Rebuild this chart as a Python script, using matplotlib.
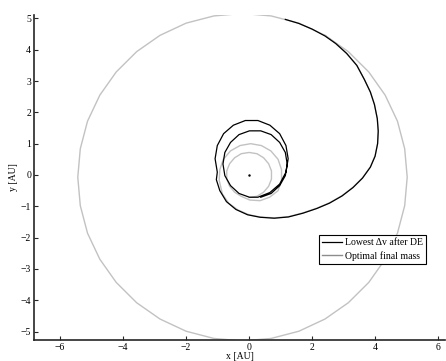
import matplotlib
matplotlib.use('Agg')
import matplotlib.pyplot as plt

plt.rcParams['font.family'] = ['Liberation Serif', 'DejaVu Serif']

# black trajectory: two inner loops, then transfer out to the outer orbit
black_x = [0.37, 0.70, 0.97, 1.15, 1.21, 1.15, 0.97, 0.70, 0.37, 0.01, -0.32, -0.59, -0.77, -0.83,
           -0.77, -0.59, -0.32, 0.01,
           0.28, 0.66, 0.97, 1.17, 1.24, 1.17, 0.97, 0.66, 0.28, -0.12, -0.50, -0.81, -1.01, -1.08,
           -1.01,
           -1.04, -0.93, -0.72, -0.42, -0.05, 0.35, 0.80, 1.25, 1.71, 2.15, 2.55, 2.95, 3.30, 3.60,
           3.85, 4.00, 4.08, 4.10, 4.07, 3.98, 3.85, 3.66, 3.42, 3.10, 2.75, 2.41, 2.00, 1.58, 1.15]
black_y = [-0.71, -0.59, -0.34, -0.02, 0.35, 0.72, 1.04, 1.29, 1.41, 1.41, 1.29, 1.04, 0.72, 0.35,
           -0.02, -0.34, -0.59, -0.71,
           -0.71, -0.56, -0.29, 0.09, 0.52, 0.94, 1.32, 1.59, 1.74, 1.74, 1.59, 1.32, 0.94, 0.52,
           0.09,
           -0.15, -0.50, -0.85, -1.10, -1.27, -1.35, -1.38, -1.34, -1.22, -1.07, -0.90, -0.67, -0.40,
           -0.10, 0.25, 0.60, 1.00, 1.40, 1.80, 2.25, 2.65, 3.05, 3.50, 3.88, 4.20, 4.44, 4.66, 4.84,
           4.97]

# grey trajectory: inner circles, transfer, then one full outer orbit
grey_x = [0.00, 0.25, 0.46, 0.62, 0.71, 0.71, 0.62, 0.46, 0.25, 0.00, -0.25, -0.46, -0.62, -0.71,
          -0.71, -0.62, -0.46, -0.25,
          0.02, 0.35, 0.65, 0.92, 1.03, 1.03, 0.92, 0.69, 0.39, 0.05, -0.29, -0.59, -0.82, -0.93,
          -0.95,
          -0.85, -0.65, -0.35, 0.00, 0.35, 0.80, 1.25, 1.71, 2.15, 2.55, 2.95, 3.30, 3.60,
          3.85, 4.00, 4.08, 4.10, 4.07, 3.98, 3.85, 3.66, 3.42, 3.10, 2.75,
          2.41, 1.58, 0.70, -0.21, -1.12, -2.00, -2.83, -3.57, -4.22, -4.74, -5.13, -5.36,
          -5.44, -5.36, -5.13, -4.74, -4.22, -3.57, -2.83, -2.00, -1.12, -0.21, 0.70, 1.58,
          2.41, 3.15, 3.80, 4.32, 4.71, 4.94, 5.02, 4.94, 4.71, 4.32, 3.80, 3.15, 2.41]
grey_y = [-0.72, -0.68, -0.55, -0.36, -0.13, 0.13, 0.36, 0.55, 0.68, 0.72, 0.68, 0.55, 0.36, 0.13,
          -0.13, -0.36, -0.55, -0.68,
          -0.80, -0.82, -0.71, -0.50, -0.17, 0.17, 0.50, 0.77, 0.94, 1.00, 0.94, 0.77, 0.50, 0.17,
          -0.17,
          -0.60, -0.90, -1.12, -1.27, -1.34, -1.37, -1.33, -1.21, -1.06, -0.89, -0.66, -0.39, -0.09,
          0.26, 0.61, 1.01, 1.40, 1.80, 2.25, 2.65, 3.05, 3.50, 3.88, 4.20,
          4.46, 4.85, 5.08, 5.16, 5.08, 4.85, 4.46, 3.94, 3.29, 2.55, 1.72, 0.84,
          -0.07, -0.98, -1.86, -2.69, -3.43, -4.08, -4.60, -4.99, -5.22, -5.30, -5.22, -4.99,
          -4.60, -4.08, -3.43, -2.69, -1.86, -0.98, -0.07, 0.84, 1.72, 2.55, 3.29, 3.94, 4.46]

x_ticks = [-6, -4, -2, 0, 2, 4, 6]
y_ticks = [-5, -4, -3, -2, -1, 0, 1, 2, 3, 4, 5]

fig = plt.figure(figsize=(4.46, 3.61), dpi=100)
ax = fig.add_axes([34 / 446, 21 / 361, 411 / 446, 325 / 361])

ax.plot(grey_x, grey_y, color='0.76', lw=1.0, label='Optimal final mass', zorder=2)
ax.plot(black_x, black_y, color='k', lw=0.9, label='Lowest \u0394v after DE', zorder=3)
ax.plot([0], [0], marker='.', color='k', markersize=1.5, zorder=4)

ax.set_xlim(-6.83, 6.22)
ax.set_ylim(-5.27, 5.11)
ax.set_xticks(x_ticks)
ax.set_yticks(y_ticks)
ax.set_xticklabels([f'\u2212{abs(t)}' if t < 0 else str(t) for t in x_ticks])
ax.set_yticklabels([f'\u2212{abs(t)}' if t < 0 else str(t) for t in y_ticks])
ax.tick_params(direction='in', length=3, width=0.8, labelsize=7, pad=2, color='0.15')

for s in ['top', 'right']:
    ax.spines[s].set_visible(False)
for s in ['left', 'bottom']:
    ax.spines[s].set_linewidth(1.2)
    ax.spines[s].set_color('0.15')

ax.set_xlabel('x [AU]', fontsize=7, labelpad=0)
ax.set_ylabel('y [AU]', fontsize=7, labelpad=2)

h, l = ax.get_legend_handles_labels()
leg = ax.legend(h[::-1], l[::-1], loc='upper right', bbox_to_anchor=(0.954, 0.323),
                fontsize=7, frameon=True, fancybox=False, framealpha=1,
                edgecolor='k', handlelength=2.0, handletextpad=0.3,
                borderpad=0.35, labelspacing=0.35, borderaxespad=0)
leg.get_frame().set_linewidth(0.8)
leg.get_lines()[1].set_color('0.55')

fig.savefig('out.png', dpi=100)
